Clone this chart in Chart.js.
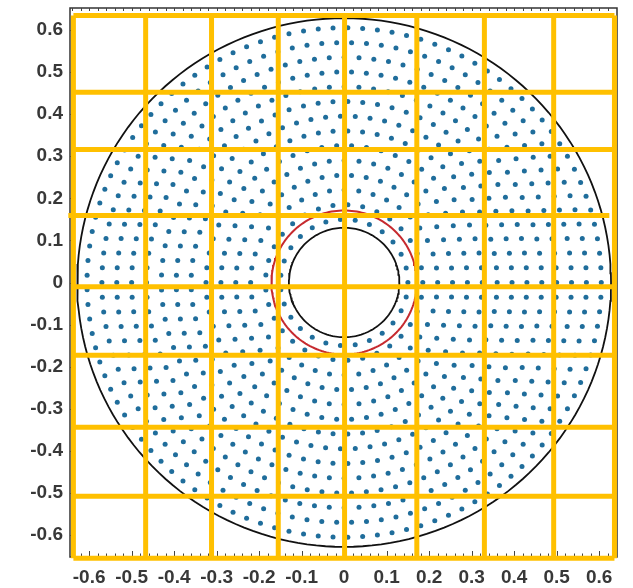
<!DOCTYPE html>
<html>
<head>
<meta charset="utf-8">
<script src="https://cdn.jsdelivr.net/npm/chart.js@4.4.1/dist/chart.umd.min.js"></script>
<style>
  html, body { margin: 0; padding: 0; background: #ffffff; }
  #wrap { width: 633px; height: 588px; }
</style>
</head>
<body>
<div id="wrap"><canvas id="c" width="633" height="588"></canvas></div>
<script>
// ---- Data ----
const xTickValues = [-0.6, -0.5, -0.4, -0.3, -0.2, -0.1, 0, 0.1, 0.2, 0.3, 0.4, 0.5, 0.6];
const yTickValues = [-0.6, -0.5, -0.4, -0.3, -0.2, -0.1, 0, 0.1, 0.2, 0.3, 0.4, 0.5, 0.6];

// sample rings of the dot pattern (radius, number of dots on that ring)
const ringRadii  = [0.150, 0.185, 0.220, 0.255, 0.290, 0.325, 0.360, 0.395, 0.430, 0.465, 0.500, 0.535, 0.570, 0.605];
const ringCounts = [27, 33, 40, 46, 52, 58, 65, 71, 77, 84, 90, 96, 102, 109];

// boundary circles
const outerRadius = 0.628;
const innerRadius = 0.130;
const redRadius   = 0.171;

// orange overlay grid
const gridXs   = [-0.637, -0.467, -0.312, -0.155, 0.001, 0.171, 0.330, 0.493, 0.636];
const gridYs   = [0.634, 0.452, 0.316, 0.159, -0.010, -0.173, -0.344, -0.508, -0.655];
const hLineFrom = [-0.637, -0.637, -0.637, -0.649, -0.637, -0.637, -0.637, -0.637, -0.637];
const hLineTo   = [0.636, 0.636, 0.636, 0.624, 0.636, 0.636, 0.636, 0.636, 0.636];
const vLineFrom = -0.655;
const vLineTo   = 0.634;

// ---- build library data ----
const dots = [];
ringRadii.forEach((r, i) => {
  const n = ringCounts[i];
  for (let k = 0; k < n; k++) {
    const a = 2 * Math.PI * k / n;
    dots.push({ x: r * Math.cos(a), y: r * Math.sin(a) });
  }
});

function circlePts(r) {
  const pts = [];
  for (let d = 0; d <= 360; d += 2) {
    const a = d * Math.PI / 180;
    pts.push({ x: r * Math.cos(a), y: r * Math.sin(a) });
  }
  return pts;
}

const ORANGE = '#FFC000';
const lineBase = { showLine: true, pointRadius: 0, borderWidth: 5, borderColor: ORANGE, tension: 0, clip: false, order: 0, borderCapStyle: 'butt' };

const datasets = [];
datasets.push({ label: 'points', data: dots, pointRadius: 2.5, pointBackgroundColor: '#1f6d9b', pointBorderWidth: 0, showLine: false, order: 5 });
datasets.push({ label: 'outer', data: circlePts(outerRadius), showLine: true, pointRadius: 0, borderColor: '#111111', borderWidth: 1.8, tension: 0, order: 3 });
datasets.push({ label: 'inner', data: circlePts(innerRadius), showLine: true, pointRadius: 0, borderColor: '#111111', borderWidth: 1.8, tension: 0, order: 3 });
datasets.push({ label: 'red', data: circlePts(redRadius), showLine: true, pointRadius: 0, borderColor: '#c62a2f', borderWidth: 2, tension: 0, order: 3 });
gridXs.forEach(v => datasets.push(Object.assign({ label: 'v', data: [{ x: v, y: vLineFrom }, { x: v, y: vLineTo }] }, lineBase)));
gridYs.forEach((v, i) => datasets.push(Object.assign({ label: 'h', data: [{ x: hLineFrom[i], y: v }, { x: hLineTo[i], y: v }] }, lineBase)));

function fmt(v) {
  const r = Math.round(v * 10) / 10;
  return r === 0 ? '0' : String(r);
}

const framePlugin = {
  id: 'frame',
  beforeDatasetsDraw(chart) {
    const { ctx, chartArea: a, scales } = chart;
    ctx.save();
    ctx.strokeStyle = '#333333';
    ctx.lineWidth = 1.5;
    ctx.strokeRect(a.left, a.top, a.right - a.left, a.bottom - a.top);
    ctx.lineWidth = 1;
    ctx.strokeStyle = '#444444';
    for (let i = -32; i <= 32; i++) {
      const v = i * 0.02;
      const px = Math.round(scales.x.getPixelForValue(v)) + 0.5;
      if (px < a.left + 2 || px > a.right - 2) continue;
      const major = (i % 5 === 0);
      ctx.beginPath();
      ctx.moveTo(px, a.bottom);
      ctx.lineTo(px, a.bottom - (major ? 6 : 3.5));
      ctx.stroke();
      ctx.beginPath();
      ctx.moveTo(px, a.top);
      ctx.lineTo(px, a.top + 3);
      ctx.stroke();
    }
    yTickValues.forEach(v => {
      const py = Math.round(scales.y.getPixelForValue(v)) + 0.5;
      ctx.beginPath();
      ctx.moveTo(a.left, py); ctx.lineTo(a.left + 4, py);
      ctx.moveTo(a.right, py); ctx.lineTo(a.right - 4, py);
      ctx.stroke();
    });
    ctx.restore();
  }
};

const tickFont = { family: "'Liberation Sans', Arial, sans-serif", size: 19, weight: 'bold' };

new Chart(document.getElementById('c'), {
  type: 'scatter',
  data: { datasets },
  options: {
    responsive: false,
    animation: false,
    events: [],
    layout: { padding: { top: 8, right: 16, left: 0, bottom: 0 } },
    plugins: { legend: { display: false }, tooltip: { enabled: false } },
    scales: {
      x: {
        type: 'linear', min: -0.645, max: 0.642,
        afterBuildTicks: s => { s.ticks = xTickValues.map(v => ({ value: v })); },
        afterFit: s => { s.height = 31; s.paddingLeft = 0; s.paddingRight = 0; },
        ticks: { callback: fmt, font: tickFont, color: '#383838', padding: 9, maxRotation: 0, autoSkip: false },
        grid: { display: false, drawTicks: false },
        border: { display: false }
      },
      y: {
        type: 'linear', min: -0.652, max: 0.652,
        afterBuildTicks: s => { s.ticks = yTickValues.map(v => ({ value: v })); },
        afterFit: s => { s.width = 70; s.paddingTop = 0; s.paddingBottom = 0; },
        ticks: { callback: fmt, font: tickFont, color: '#383838', padding: 7, autoSkip: false },
        grid: { display: false, drawTicks: false },
        border: { display: false }
      }
    }
  },
  plugins: [framePlugin]
});
</script>
</body>
</html>
